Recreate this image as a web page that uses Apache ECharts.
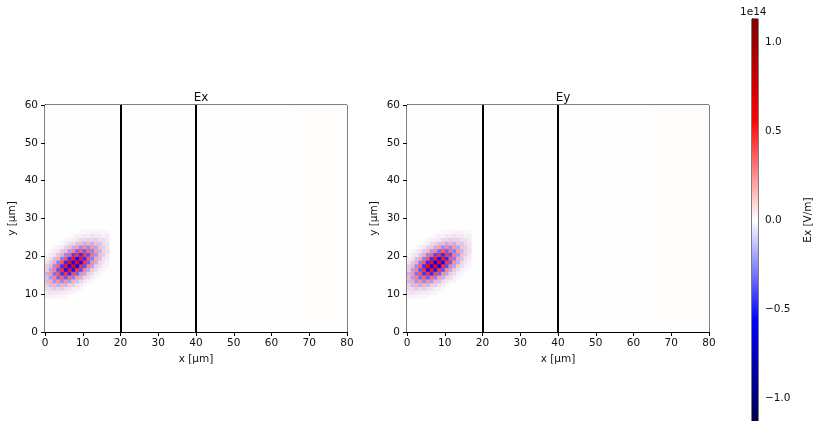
<!DOCTYPE html>
<html>
<head>
<meta charset="utf-8">
<script src="https://cdn.jsdelivr.net/npm/echarts@6.0.0/dist/echarts.min.js"></script>
<style>
  html, body { margin: 0; padding: 0; background: #fff; }
  #chart { width: 815px; height: 421px; }
</style>
</head>
<body>
<div id="chart"></div>
<script>
// field values in units of 1e14 V/m, one row per y cell (y = firstRowY + i), one entry per x cell (x = 0..16)
var firstRowY = 9;
var exRows = [
    [-0.03, 0.03, -0.03, 0.02, -0.02, 0.02, 0, 0, 0, 0, 0, 0, 0, 0, 0, 0, 0],
    [0.05, -0.06, 0.06, -0.05, 0.05, -0.04, 0.03, -0.02, 0, 0, 0, 0, 0, 0, 0, 0, 0],
    [-0.08, 0.10, -0.11, 0.10, -0.10, 0.08, -0.06, 0.04, -0.03, 0.02, 0, 0, 0, 0, 0, 0, 0],
    [0.12, -0.14, 0.17, -0.17, 0.17, -0.15, 0.12, -0.10, 0.07, -0.04, 0.02, 0, 0, 0, 0, 0, 0],
    [-0.14, 0.19, -0.23, 0.25, -0.26, 0.25, -0.22, 0.17, -0.13, 0.09, -0.05, 0.03, -0.02, 0, 0, 0, 0],
    [0.16, -0.22, 0.28, -0.33, 0.35, -0.36, 0.33, -0.28, 0.22, -0.16, 0.11, -0.07, 0.04, -0.02, 0, 0, 0],
    [-0.16, 0.23, -0.31, 0.38, -0.44, 0.46, -0.46, 0.41, -0.34, 0.26, -0.19, 0.12, -0.07, 0.04, -0.02, 0, 0],
    [0.13, -0.20, 0.29, -0.38, 0.47, -0.53, 0.54, -0.52, 0.46, -0.38, 0.28, -0.19, 0.13, -0.07, 0.04, -0.02, 0],
    [-0.10, 0.17, -0.25, 0.35, -0.45, 0.53, -0.58, 0.59, -0.55, 0.47, -0.38, 0.28, -0.19, 0.11, -0.07, 0.04, -0.02],
    [0.07, -0.11, 0.19, -0.28, 0.38, -0.47, 0.55, -0.59, 0.58, -0.53, 0.45, -0.35, 0.25, -0.17, 0.10, -0.05, 0.03],
    [-0.04, 0.07, -0.13, 0.19, -0.28, 0.38, -0.46, 0.52, -0.54, 0.53, -0.47, 0.38, -0.29, 0.20, -0.13, 0.08, -0.04],
    [0.02, -0.04, 0.07, -0.12, 0.19, -0.26, 0.34, -0.41, 0.46, -0.46, 0.44, -0.38, 0.31, -0.23, 0.16, -0.10, 0.06],
    [0, 0.02, -0.04, 0.07, -0.11, 0.16, -0.22, 0.28, -0.33, 0.36, -0.35, 0.33, -0.28, 0.22, -0.16, 0.11, -0.07],
    [0, 0, 0.02, -0.03, 0.05, -0.09, 0.13, -0.17, 0.22, -0.25, 0.26, -0.25, 0.23, -0.19, 0.14, -0.10, 0.07],
    [0, 0, 0, 0, -0.02, 0.04, -0.07, 0.10, -0.12, 0.15, -0.17, 0.17, -0.17, 0.14, -0.12, 0.09, -0.06],
    [0, 0, 0, 0, 0, -0.02, 0.03, -0.04, 0.06, -0.08, 0.10, -0.10, 0.11, -0.10, 0.08, -0.07, 0.05],
    [0, 0, 0, 0, 0, 0, 0, 0.02, -0.03, 0.04, -0.05, 0.05, -0.06, 0.06, -0.05, 0.04, -0.04],
    [0, 0, 0, 0, 0, 0, 0, 0, 0, -0.02, 0.02, -0.02, 0.03, -0.03, 0.03, -0.02, 0.02]
];
// Ey panel looks the same as Ex
var eyRows = exRows;

// faint background: [x start, x end, value]
var bgBands = [[0, 65, -0.003], [65, 80, 0.006]];

var wallX = [20, 40];
var cbTicks = [-1.0, -0.5, 0.0, 0.5, 1.0];
var cbMin = -1.13, cbMax = 1.13;

function toCells(rows) {
    var out = [];
    rows.forEach(function (row, i) {
        row.forEach(function (v, x) {
            if (v !== 0) out.push([x, firstRowY + i, v]);
        });
    });
    return out;
}

var fontFam = 'DejaVu Sans';
var txt = { fontFamily: fontFam, fontSize: 10.5, color: '#111' };

function cellItem(params, api) {
    var p0 = api.coord([api.value(0), api.value(1)]);
    var p1 = api.coord([api.value(0) + 1, api.value(1) + 1]);
    return {
        type: 'rect',
        shape: { x: p0[0], y: p1[1], width: p1[0] - p0[0] + 0.4, height: p0[1] - p1[1] + 0.4 },
        style: { fill: api.visual('color') }
    };
}

function bandItem(params, api) {
    var p0 = api.coord([api.value(0), 0]);
    var p1 = api.coord([api.value(1), 60]);
    return {
        type: 'rect',
        shape: { x: p0[0], y: p1[1], width: p1[0] - p0[0], height: p0[1] - p1[1] },
        style: { fill: api.visual('color') }
    };
}

function xAxisFor(idx) {
    return {
        gridIndex: idx, type: 'value', min: 0, max: 80, interval: 10,
        name: 'x [µm]', nameLocation: 'middle', nameGap: 21,
        nameTextStyle: txt,
        axisLine: { lineStyle: { color: '#000', width: 1 } },
        axisTick: { length: 4, lineStyle: { color: '#000' } },
        axisLabel: Object.assign({ margin: 6 }, txt),
        splitLine: { show: false }
    };
}
function yAxisFor(idx) {
    return {
        gridIndex: idx, type: 'value', min: 0, max: 60, interval: 10,
        name: 'y [µm]', nameLocation: 'middle', nameGap: 27, nameRotate: 90,
        nameTextStyle: txt,
        axisLine: { lineStyle: { color: '#000', width: 1 } },
        axisTick: { length: 4, lineStyle: { color: '#000' } },
        axisLabel: Object.assign({ margin: 7 }, txt),
        splitLine: { show: false }
    };
}

var wallLine = {
    silent: true, symbol: 'none', label: { show: false },
    lineStyle: { color: '#000', width: 2, type: 'solid' },
    data: wallX.map(function (x) { return { xAxis: x }; })
};

var chart = echarts.init(document.getElementById('chart'));
var option = {
    animation: false,
    backgroundColor: '#fff',
    title: [
        { text: 'Ex', left: 196, top: 87, textAlign: 'center',
          textStyle: { fontFamily: fontFam, fontSize: 12, fontWeight: 'normal', color: '#111' } },
        { text: 'Ey', left: 558, top: 87, textAlign: 'center',
          textStyle: { fontFamily: fontFam, fontSize: 12, fontWeight: 'normal', color: '#111' } }
    ],
    grid: [
        { left: 45, top: 105, width: 302, height: 227, show: true, borderColor: '#000', borderWidth: 1, backgroundColor: 'transparent' },
        { left: 407, top: 105, width: 302, height: 227, show: true, borderColor: '#000', borderWidth: 1, backgroundColor: 'transparent' },
        { left: 752, top: 19, width: 14, height: 402, show: true, borderColor: '#000', borderWidth: 1, backgroundColor: 'transparent' }
    ],
    xAxis: [
        xAxisFor(0), xAxisFor(1),
        { gridIndex: 2, type: 'value', min: 0, max: 1, show: false }
    ],
    yAxis: [
        yAxisFor(0), yAxisFor(1),
        {
            gridIndex: 2, type: 'value', position: 'right', min: cbMin, max: cbMax,
            name: 'Ex [V/m]', nameLocation: 'middle', nameGap: 45, nameRotate: 90,
            nameTextStyle: txt,
            axisLine: { show: true, lineStyle: { color: '#000', width: 1 } },
            axisTick: { show: true, length: 4, customValues: cbTicks, lineStyle: { color: '#000' } },
            axisLabel: Object.assign({
                margin: 7, customValues: cbTicks,
                formatter: function (v) { return v.toFixed(1).replace('-', '\u2212'); }
            }, txt),
            splitLine: { show: false }
        }
    ],
    visualMap: {
        type: 'continuous', show: false, min: cbMin, max: cbMax, dimension: 2,
        seriesIndex: [0, 1, 2, 3],
        inRange: { color: ['#00004c', '#0000ff', '#ffffff', '#ff0000', '#7f0000'] }
    },
    graphic: [
        { type: 'text', left: 740, top: 7, style: { text: '1e14', font: '10.5px "DejaVu Sans"', fill: '#111' } }
    ],
    series: [
        { type: 'custom', xAxisIndex: 0, yAxisIndex: 0, clip: true, renderItem: bandItem,
          encode: { x: [0, 1] }, data: bgBands },
        { type: 'custom', xAxisIndex: 1, yAxisIndex: 1, clip: true, renderItem: bandItem,
          encode: { x: [0, 1] }, data: bgBands },
        { type: 'custom', xAxisIndex: 0, yAxisIndex: 0, clip: true, renderItem: cellItem,
          encode: { x: 0, y: 1 }, data: toCells(exRows), markLine: wallLine },
        { type: 'custom', xAxisIndex: 1, yAxisIndex: 1, clip: true, renderItem: cellItem,
          encode: { x: 0, y: 1 }, data: toCells(eyRows), markLine: wallLine },
        {
            type: 'custom', xAxisIndex: 2, yAxisIndex: 2, clip: true,
            data: [[0, cbMin, 1, cbMax]],
            renderItem: function (params, api) {
                var p0 = api.coord([api.value(0), api.value(1)]);
                var p1 = api.coord([api.value(2), api.value(3)]);
                return {
                    type: 'rect',
                    shape: { x: p0[0], y: p1[1], width: p1[0] - p0[0], height: p0[1] - p1[1] },
                    style: {
                        fill: new echarts.graphic.LinearGradient(0, 0, 0, 1, [
                            { offset: 0, color: '#7f0000' },
                            { offset: 0.25, color: '#ff0000' },
                            { offset: 0.5, color: '#ffffff' },
                            { offset: 0.75, color: '#0000ff' },
                            { offset: 1, color: '#00004c' }
                        ])
                    }
                };
            }
        }
    ]
};
chart.setOption(option);
</script>
</body>
</html>
